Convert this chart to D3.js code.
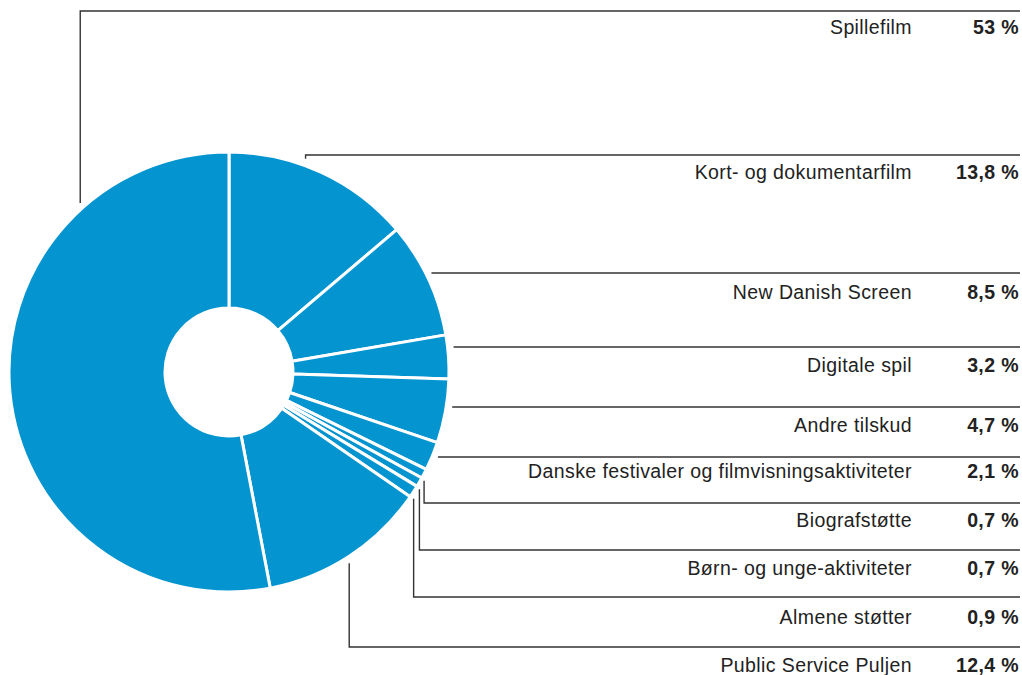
<!DOCTYPE html>
<html>
<head>
<meta charset="utf-8">
<script src="https://cdn.jsdelivr.net/npm/d3@7"></script>
<style>
    body { margin: 0; background: #fff; }
    #donut-area { width: 1022px; height: 675px; }
    .label { font-family: "Liberation Sans", Arial, sans-serif; font-size: 19.5px; letter-spacing: 0.4px; fill: #222; }
    .value { font-weight: bold; }
    .leader { fill: none; stroke: #333; stroke-width: 1.4px; }
</style>
</head>
<body>
<div id="donut-area"></div>
<script>

// slices, clockwise from 12 o'clock
const categories = ["Kort- og dokumentarfilm", "New Danish Screen", "Digitale spil", "Andre tilskud",
    "Danske festivaler og filmvisningsaktiviteter", "Biografstøtte", "Børn- og unge-aktiviteter",
    "Almene støtter", "Public Service Puljen", "Spillefilm"];
const shares = [13.8, 8.5, 3.2, 4.7, 2.1, 0.7, 0.7, 0.9, 12.4, 53];

// rows of the label column, top to bottom
const legendOrder = ["Spillefilm", "Kort- og dokumentarfilm", "New Danish Screen", "Digitale spil",
    "Andre tilskud", "Danske festivaler og filmvisningsaktiviteter", "Biografstøtte",
    "Børn- og unge-aktiviteter", "Almene støtter", "Public Service Puljen"];


class DonutVis {

    constructor(parentElement) {
        this.parentElement = parentElement;
        this.initVis();
    }

    initVis() {
        let vis = this;

        vis.width = 1022;
        vis.height = 675;
        vis.cx = 229;
        vis.cy = 372;
        vis.outer = 220;
        vis.inner = 64;

        // layout of the label column (line y, text baseline)
        vis.rowLine = [11, 155, 273, 347, 407, 457, 503, 550, 597, 647];
        vis.rowText = [34, 179, 299, 372, 432, 478, 527, 575, 624, 672];
        // where along its slice a vertical leader attaches (null = horizontal leader)
        vis.anchorFrac = [0.777, 0.41, null, null, null, null, 0.5, 0.5, 0.5, 0.5];
        vis.lineEnd = 1020;
        vis.labelX = 912;
        vis.valueX = 1019;

        vis.svg = d3.select("#" + vis.parentElement).append("svg")
            .attr("width", vis.width)
            .attr("height", vis.height);

        vis.pie = d3.pie().sort(null).value(d => d.share);
        vis.arc = d3.arc().innerRadius(vis.inner).outerRadius(vis.outer);

        this.wrangleData();
    }

    wrangleData() {
        let vis = this;
        vis.data = categories.map((c, i) => ({name: c, share: shares[i]}));
        vis.arcs = vis.pie(vis.data);
        vis.byName = {};
        vis.arcs.forEach(a => vis.byName[a.data.name] = a);
        this.updateVis();
    }

    fmt(v) {
        return (Number.isInteger(v) ? String(v) : d3.format(".1f")(v).replace(".", ",")) + " %";
    }

    updateVis() {
        let vis = this;

        // ---- DONUT ----
        vis.svg.append("g")
            .attr("transform", `translate(${vis.cx},${vis.cy})`)
            .selectAll("path")
            .data(vis.arcs)
            .enter().append("path")
            .attr("d", vis.arc)
            .attr("fill", "#0494d0")
            .attr("stroke", "#fff")
            .attr("stroke-width", 3)
            .attr("stroke-linejoin", "round");

        // ---- LEADERS + LABELS ----
        legendOrder.forEach((name, i) => {
            let a = vis.byName[name];
            let y = vis.rowLine[i];
            let path;
            if (vis.anchorFrac[i] === null) {
                let x0 = vis.cx + Math.sqrt(vis.outer * vis.outer - (y - vis.cy) * (y - vis.cy)) + 6;
                path = `M${x0},${y}H${vis.lineEnd}`;
            } else {
                let ang = a.startAngle + vis.anchorFrac[i] * (a.endAngle - a.startAngle);
                let x = vis.cx + vis.outer * Math.sin(ang);
                let edge = vis.cy - vis.outer * Math.cos(ang);
                let y0 = edge + (y > edge ? 7 : -7);
                path = `M${x},${y0}V${y}H${vis.lineEnd}`;
            }
            vis.svg.append("path").attr("class", "leader").attr("d", path);

            vis.svg.append("text")
                .attr("class", "label")
                .attr("x", vis.labelX)
                .attr("y", vis.rowText[i])
                .attr("text-anchor", "end")
                .text(name);

            vis.svg.append("text")
                .attr("class", "label value")
                .attr("x", vis.valueX)
                .attr("y", vis.rowText[i])
                .attr("text-anchor", "end")
                .text(vis.fmt(a.data.share));
        });
    }
}

let myDonut = new DonutVis("donut-area");

</script>
</body>
</html>
